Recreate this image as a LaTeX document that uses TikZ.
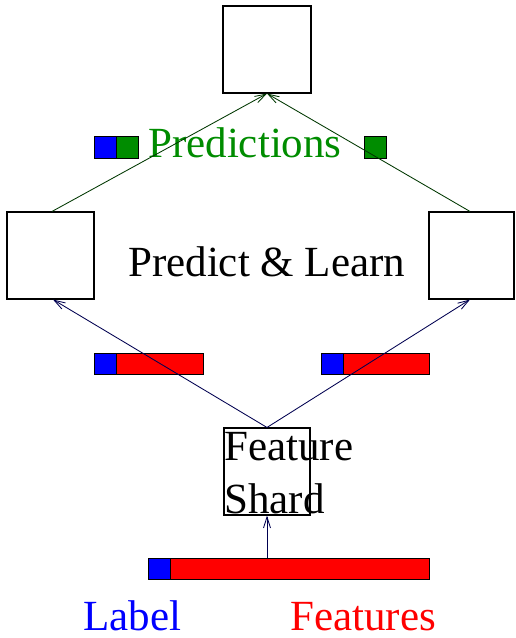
\documentclass[tikz,border=0pt]{standalone}
\usepackage{fontspec}
\setmainfont{Liberation Serif}
\usetikzlibrary{arrows.meta}
\definecolor{pgreen}{RGB}{0,140,0}
\definecolor{lgreen}{RGB}{0,55,0}
\definecolor{lnavy}{RGB}{0,0,80}
\begin{document}
\begin{tikzpicture}[x=1pt,y=-1pt,
  box/.style={draw=black,line width=1.1pt,fill=white,inner sep=0pt,minimum width=#1,minimum height=87pt},
  cell/.style={draw=black,line width=0.6pt,inner sep=0pt,minimum height=22pt},
  lbl/.style={inner sep=0pt,anchor=base west,font=\fontsize{43}{52}\selectfont},
  arr/.style={line width=0.85pt,-{Straight Barb[length=11pt,width=7pt]}}]
\useasboundingbox (0,0) rectangle (515,638);
% boxes
\node[box=88pt] (top) at (267,49.5) {};
\node[box=87pt] (left) at (50.5,255.5) {};
\node[box=85pt] (right) at (471.5,255.5) {};
\node[box=86pt] (shard) at (267,471.5) {};
% predictions row
\node[cell,fill=blue,minimum width=22pt] (pb) at (105,147) {};
\node[cell,fill=pgreen,minimum width=22pt] (pg) at (127,147) {};
\node[cell,fill=pgreen,minimum width=22pt] (rg) at (375,147) {};
\node[lbl,text=pgreen] (pred) at (148,157) {Predictions};
% middle text
\node[lbl] (pl) at (128,276) {Predict \& Learn};
% middle bars
\node[cell,fill=blue,minimum width=22pt,minimum height=21pt] (mlb) at (105,363.5) {};
\node[cell,fill=red,minimum width=87pt,minimum height=21pt] (mlr) at (159.5,363.5) {};
\node[cell,fill=blue,minimum width=22pt,minimum height=21pt] (mrb) at (332,363.5) {};
\node[cell,fill=red,minimum width=86pt,minimum height=21pt] (mrr) at (386,363.5) {};
% shard text
\node[lbl] (f1) at (224,460) {Feature};
\node[lbl] (f2) at (224,513) {Shard};
% bottom bar
\node[cell,fill=blue,minimum width=22pt,minimum height=21pt] (bb) at (159,568.5) {};
\node[cell,fill=red,minimum width=259pt,minimum height=21pt] (br) at (299.5,568.5) {};
\node[lbl,text=blue,text depth=0pt] (lab) at (83,630) {Label};
\node[lbl,text=red,text depth=0pt] (feat) at (290,630) {Features};
% connectors
\draw[arr,lgreen] ([xshift=1.5pt]left.north) -- (top.south);
\draw[arr,lgreen] ([xshift=-1.5pt]right.north) -- (top.south);
\draw[arr,lnavy] (shard.north) -- ([xshift=2.5pt]left.south);
\draw[arr,lnavy] (shard.north) -- ([xshift=-1.5pt]right.south);
\draw[arr,lnavy] (br.north -| shard.south) -- (shard.south);
\end{tikzpicture}
\end{document}
